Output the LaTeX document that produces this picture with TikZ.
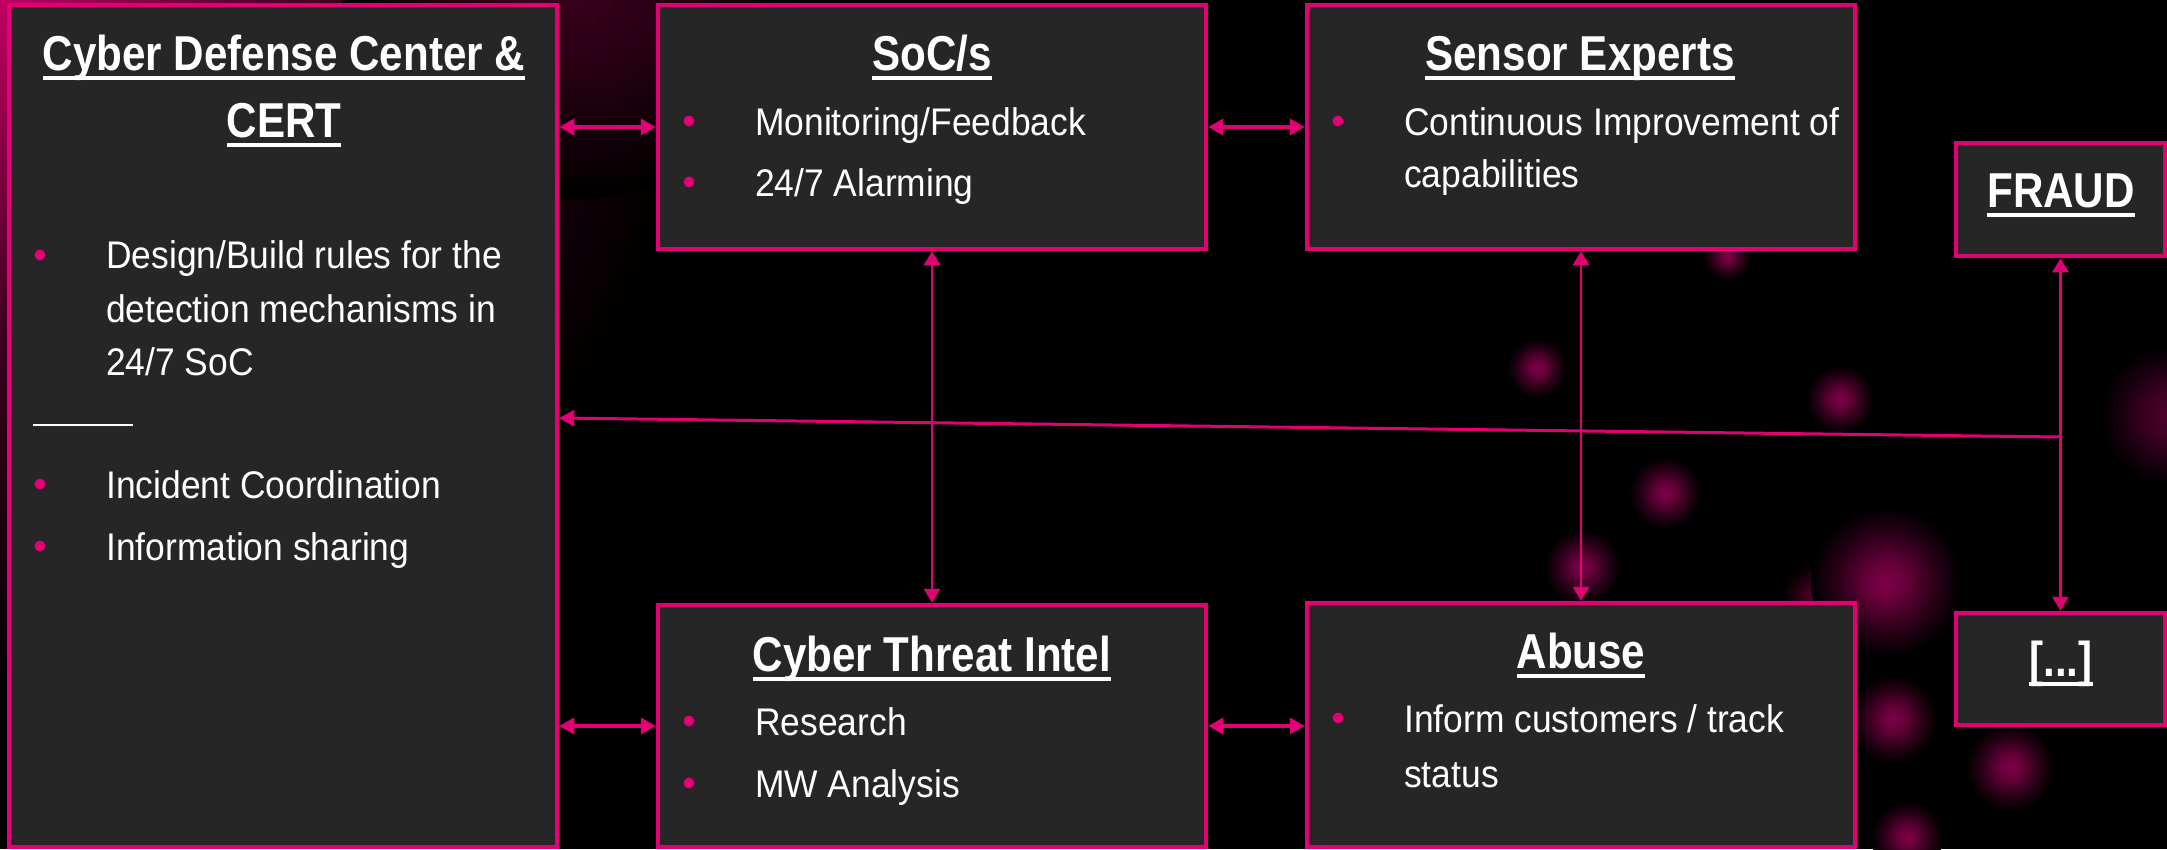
\documentclass[tikz,border=0pt]{standalone}
\usepackage{fontspec}
\setmainfont[FakeStretch=0.92]{Liberation Sans}
\newfontfamily\ttlfont[FakeStretch=0.86]{Liberation Sans}
\usetikzlibrary{arrows.meta}
\definecolor{tmag}{HTML}{E20074}
\definecolor{boxgray}{HTML}{262626}
\definecolor{glowA}{HTML}{7C0046}
\definecolor{glowB}{HTML}{4E002A}
\definecolor{glowG}{HTML}{3C001C}
\pgfdeclareradialshading{glowsa}{\pgfpoint{0bp}{0bp}}{color(0bp)=(glowA); color(6bp)=(glowA!85!black); color(16bp)=(glowA!35!black); color(25bp)=(black); color(50bp)=(black)}
\pgfdeclareradialshading{glowsb}{\pgfpoint{0bp}{0bp}}{color(0bp)=(glowB); color(8bp)=(glowB!80!black); color(18bp)=(glowB!30!black); color(25bp)=(black); color(50bp)=(black)}
\pgfdeclareradialshading{glowsg}{\pgfpoint{0bp}{0bp}}{color(0bp)=(glowG); color(10bp)=(glowG!70!black); color(25bp)=(black); color(50bp)=(black)}
\pgfdeclareradialshading{glowst}{\pgfpoint{0bp}{0bp}}{color(0bp)=(rgb,255:red,192;green,0;blue,98); color(5bp)=(rgb,255:red,138;green,0;blue,70); color(12bp)=(rgb,255:red,58;green,0;blue,28); color(25bp)=(black); color(50bp)=(black)}
\newcommand\ttl[1]{\setbox0=\hbox{#1}\dp0=0pt\vtop{\copy0\kern6pt\hrule height 3.5pt}}
\begin{document}
\begin{tikzpicture}[x=1pt,y=-1pt,
  box/.style={draw=tmag, line width=4.5pt, fill=boxgray, rectangle, inner sep=0pt},
  ttl/.style={text=white, inner sep=0pt, anchor=base, font=\ttlfont\bfseries\fontsize{49}{58}\selectfont},
  txt/.style={text=white, inner sep=0pt, anchor=base west, font=\fontsize{38.5}{46}\selectfont},
  harrow/.style={tmag, line width=4pt, {Triangle[length=15pt,width=16pt]}-{Triangle[length=15pt,width=16pt]}},
  varrow/.style={tmag, line width=2.8pt, {Triangle[length=14pt,width=16pt]}-{Triangle[length=14pt,width=16pt]}},
  sarrow/.style={tmag, line width=3pt, -{Triangle[length=15pt,width=16pt]}},
  dotb/.style={fill=tmag}
]
\useasboundingbox (0,0) rectangle (2167,849);
\fill[black] (0,0) rectangle (2167,849);
% background glows
\shade[shading=glowst] (0,0) circle (700pt);
\shade[shading=glowsg] (570,-30) circle (230pt);
\shade[shading=glowsa] (1537,368) circle (30pt);
\shade[shading=glowsa] (1840,399) circle (34pt);
\shade[shading=glowsa] (1727,256) circle (24pt);
\shade[shading=glowsb] (2170,415) circle (70pt);
\shade[shading=glowsa] (1665,493) circle (36pt);
\shade[shading=glowsa] (1582,567) circle (38pt);
\shade[shading=glowsb] (1816,598) circle (34pt);
\shade[shading=glowsa] (1886,582) circle (75pt);
\shade[shading=glowsa] (1893,719) circle (44pt);
\shade[shading=glowsa] (2010,767) circle (44pt);
\shade[shading=glowsa] (1907,837) circle (36pt);

% boxes
\node[box, minimum width=548pt, minimum height=842pt] (cdc) at (283,426) {};
\node[box, minimum width=548pt, minimum height=244pt] (soc) at (932,127) {};
\node[box, minimum width=548pt, minimum height=244pt] (sens) at (1581,127) {};
\node[box, minimum width=209pt, minimum height=113pt] (fraud) at (2060.5,199.5) {};
\node[box, minimum width=548pt, minimum height=242pt] (cti) at (932,726) {};
\node[box, minimum width=548pt, minimum height=244pt] (abuse) at (1581,725) {};
\node[box, minimum width=209pt, minimum height=112pt] (more) at (2060.5,669) {};

% connectors
\draw[harrow] (cdc.east |- soc.west) -- (soc.west);
\draw[harrow] (soc.east) -- (sens.west);
\draw[harrow] (cdc.east |- cti.west) -- (cti.west);
\draw[harrow] (cti.east) -- (abuse.west |- cti.east);
\draw[varrow] (soc.south) -- (cti.north);
\draw[varrow] (sens.south) -- (abuse.north);
\draw[varrow] (fraud.south) -- (more.north);
\coordinate (junc) at (fraud.south |- 0,437);
\coordinate (cdcin) at (cdc.east |- 0,418);
\draw[sarrow] (junc) -- (cdcin);

% CDC
\node[ttl] (cdct1) at (284,70) {\ttl{Cyber Defense Center \&}};
\node[ttl] (cdct2) at (284,137) {\ttl{CERT}};
\fill[dotb] (40,255) circle (5.5pt);
\node[txt] (cdc1) at (106,268) {Design/Build rules for the};
\node[txt] (cdc2) at (106,322) {detection mechanisms in};
\node[txt] (cdc3) at (106,375) {24/7 SoC};
\draw[white, line width=1.5pt] (33,425) -- (133,425);
\fill[dotb] (40,484) circle (5.5pt);
\node[txt] (cdc4) at (106,498) {Incident Coordination};
\fill[dotb] (40,546) circle (5.5pt);
\node[txt] (cdc5) at (106,560) {Information sharing};

% SoC
\node[ttl] (soct) at (932,70) {\ttl{SoC/s}};
\fill[dotb] (689,121) circle (5.5pt);
\node[txt] (soc1) at (755,135) {Monitoring/Feedback};
\fill[dotb] (689,182) circle (5.5pt);
\node[txt] (soc2) at (755,196) {24/7 Alarming};

% Sensor
\node[ttl] (senst) at (1580,70) {\ttl{Sensor Experts}};
\fill[dotb] (1338,121) circle (5.5pt);
\node[txt] (sens1) at (1404,135) {Continuous Improvement of};
\node[txt] (sens2) at (1404,187) {capabilities};

% FRAUD
\node[ttl] (fraudt) at (2061,207) {\ttl{FRAUD}};

% CTI
\node[ttl] (ctit) at (932,671) {\ttl{Cyber Threat Intel}};
\fill[dotb] (689,721) circle (5.5pt);
\node[txt] (cti1) at (755,735) {Research};
\fill[dotb] (689,783) circle (5.5pt);
\node[txt] (cti2) at (755,797) {MW Analysis};

% Abuse
\node[ttl] (abuset) at (1581,668) {\ttl{Abuse}};
\fill[dotb] (1338,718) circle (5.5pt);
\node[txt] (abuse1) at (1404,732) {Inform customers / track};
\node[txt] (abuse2) at (1404,787) {status};

% more
\node[ttl] (moret) at (2061,676) {\ttl{[...]}};
\end{tikzpicture}
\end{document}
